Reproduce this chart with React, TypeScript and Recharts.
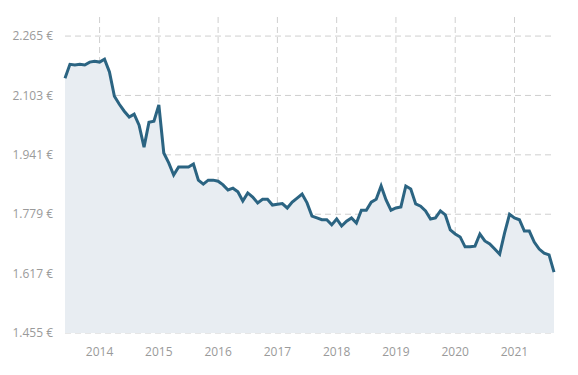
import React from 'react';
import { AreaChart, Area, XAxis, YAxis, CartesianGrid } from 'recharts';

// monthly prices, Jun 2013 .. Sep 2021 (€)
const prices: number[] = [
  2150, 2188, 2186, 2188, 2186, 2194, 2196, 2194, 2202, 2167, 2101, 2079,
  2060, 2044, 2052, 2022, 1962, 2030, 2033, 2077, 1946, 1919, 1886, 1908,
  1908, 1908, 1916, 1872, 1861, 1872, 1872, 1869, 1859, 1845, 1850, 1840,
  1815, 1837, 1826, 1810, 1820, 1820, 1804, 1806, 1808, 1796, 1812, 1823,
  1834, 1810, 1774, 1769, 1764, 1764, 1750, 1766, 1747, 1760, 1769, 1755,
  1790, 1790, 1812, 1820, 1856, 1818, 1790, 1796, 1799, 1856, 1848, 1807,
  1801, 1788, 1766, 1769, 1788, 1777, 1736, 1725, 1717, 1690, 1690, 1692,
  1725, 1706, 1698, 1684, 1670, 1728, 1779, 1769, 1764, 1733, 1733, 1703,
  1684, 1673, 1668, 1621,
];

const startYear = 2013;
const startMonth = 5; // June (0-based)

const yearTicks = [2014, 2015, 2016, 2017, 2018, 2019, 2020, 2021];
const priceTicks = [1455, 1617, 1779, 1941, 2103, 2265];

const data = prices.map((price, i) => ({
  t: startYear + (startMonth + i) / 12,
  price,
}));

const formatEuro = (v: number) => {
  const s = Math.round(v).toString();
  return `${s.slice(0, s.length - 3)}.${s.slice(-3)} €`;
};

const tickStyle = { fontSize: 12, fill: '#9a9a9a', fontFamily: '"Open Sans", sans-serif' };

const App: React.FC = () => {
  return (
    <div style={{ position: 'absolute', left: 0, top: 0, background: '#fff' }}>
      <AreaChart
        width={578}
        height={375}
        data={data}
        margin={{ top: 17, right: 24, bottom: 0, left: 0 }}
      >
        {/* grid only at the real ticks, no border lines */}
        <CartesianGrid stroke="#cfcfcf" strokeDasharray="6 4" syncWithTicks />
        <XAxis
          dataKey="t"
          type="number"
          domain={[data[0].t, data[data.length - 1].t]}
          ticks={yearTicks}
          tickFormatter={(v) => String(Math.round(v))}
          axisLine={false}
          tickLine={false}
          tickMargin={8}
          height={42}
          tick={tickStyle}
        />
        <YAxis
          type="number"
          domain={[1455, 2317]}
          ticks={priceTicks}
          tickFormatter={formatEuro}
          axisLine={false}
          tickLine={false}
          tickMargin={6}
          width={65}
          tick={tickStyle}
        />
        <Area
          type="linear"
          dataKey="price"
          stroke="#2b6482"
          strokeWidth={3}
          fill="#e8edf2"
          fillOpacity={1}
          baseValue={1455}
          dot={false}
          activeDot={false}
          isAnimationActive={false}
        />
      </AreaChart>
    </div>
  );
};

export default App;
